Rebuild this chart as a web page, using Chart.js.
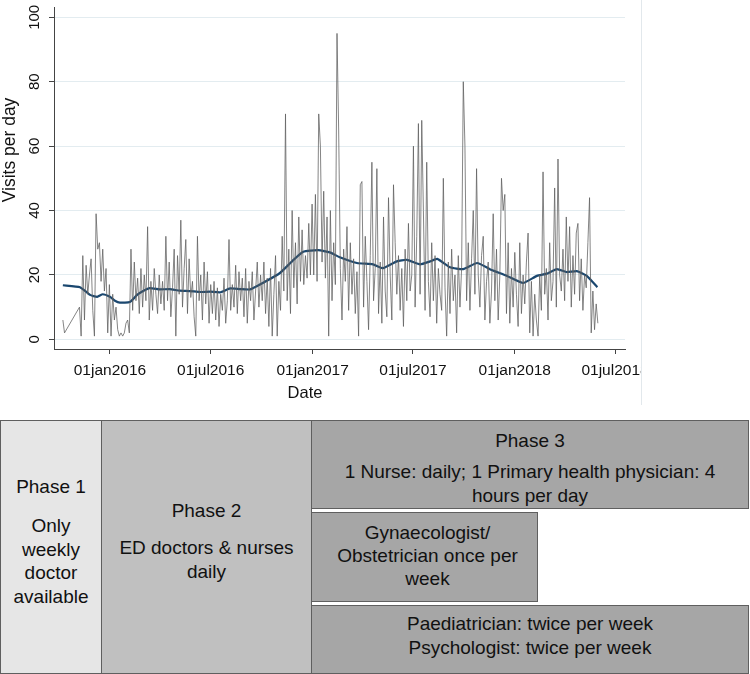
<!DOCTYPE html>
<html lang="en">
<head>
    <meta charset="UTF-8">
    <title>Visits per day by phase</title>
    <script src="https://cdn.jsdelivr.net/npm/chart.js"></script>
    <style>
        body {
            margin: 0;
            background: #ffffff;
            font-family: "Liberation Sans", Arial, sans-serif;
        }
        .page {
            position: relative;
            width: 750px;
            height: 674px;
            overflow: hidden;
        }
        #plot {
            position: absolute;
            left: 0;
            top: 0;
            width: 641px;
            height: 405px;
            border-right: 1px solid #e2e8ec;
        }
        .box {
            position: absolute;
            box-sizing: border-box;
            border: 1px solid #5f5f5f;
        }
        .txt {
            position: absolute;
            text-align: center;
            font-size: 19px;
            line-height: 23.5px;
            color: #111;
            white-space: nowrap;
        }
    </style>
</head>
<body>
<div class="page">
    <div id="plot"><canvas id="visitsChart"></canvas></div>

    <!-- phase boxes -->
    <div class="box" style="left:0;top:420px;width:102px;height:254px;background:#e6e6e6"></div>
    <div class="box" style="left:101px;top:420px;width:211px;height:254px;background:#c0c0c0"></div>
    <div class="box" style="left:311px;top:420px;width:438px;height:89px;background:#a6a6a6"></div>
    <div class="box" style="left:311px;top:512px;width:227px;height:90px;background:#a6a6a6"></div>
    <div class="box" style="left:311px;top:605px;width:438px;height:69px;background:#a6a6a6"></div>

    <div class="txt" style="left:0;width:102px;top:475px">Phase 1</div>
    <div class="txt" style="left:0;width:102px;top:514px">Only<br>weekly<br>doctor<br>available</div>

    <div class="txt" style="left:101px;width:211px;top:499px">Phase 2</div>
    <div class="txt" style="left:101px;width:211px;top:536px">ED doctors &amp; nurses<br>daily</div>

    <div class="txt" style="left:311px;width:438px;top:429px">Phase 3</div>
    <div class="txt" style="left:311px;width:438px;top:460px">1 Nurse: daily; 1 Primary health physician: 4<br>hours per day</div>

    <div class="txt" style="left:311px;width:233px;top:521px;line-height:23px">Gynaecologist/<br>Obstetrician once per<br>week</div>

    <div class="txt" style="left:311px;width:438px;top:612px">Paediatrician: twice per week<br>Psychologist: twice per week</div>
</div>

<script>
    // days are counted from 01jan2016; first record is 08oct2015, one value every 3 days
    const startDay = -85;
    const stepDays = 3;
    const visits = [
        6, 2, null, null, null, null, null, null, null, null,
        10, 1, 26, 6, 23, 14, 20, 25, 9, 1,
        39, 28, 30, 18, 28, 15, 22, 2, 17, 1,
        14, 6, 10, 3, 1, 2, 1, 2, 5, 6,
        2, 28, 9, 24, 12, 19, 8, 22, 10, 20,
        12, 35, 6, 18, 9, 22, 14, 8, 20, 11,
        18, 9, 32, 12, 24, 7, 16, 28, 1, 26,
        14, 37, 10, 22, 31, 8, 25, 13, 18, 7,
        1, 32, 12, 20, 6, 24, 11, 21, 5, 17,
        8, 18, 6, 16, 4, 14, 9, 19, 5, 12,
        31, 9, 17, 10, 23, 8, 21, 12, 19, 7,
        22, 5, 18, 12, 21, 6, 15, 24, 10, 20,
        12, 24, 8, 19, 4, 22, 1, 14, 26, 1,
        18, 9, 32, 15, 70, 12, 28, 8, 40, 16,
        30, 11, 38, 18, 34, 17, 26, 19, 36, 20,
        42, 20, 45, 18, 70, 60, 24, 46, 19, 38,
        1, 40, 12, 30, 17, 95, 65, 22, 6, 28,
        18, 35, 9, 30, 14, 25, 8, 21, 1, 48,
        49, 10, 32, 18, 3, 26, 55, 12, 22, 53,
        8, 24, 5, 38, 15, 7, 44, 20, 6, 48,
        30, 14, 26, 9, 22, 4, 28, 12, 36, 15,
        20, 60, 10, 32, 67, 14, 68, 40, 9, 55,
        18, 7, 30, 12, 26, 5, 22, 14, 9, 50,
        16, 1, 24, 8, 28, 12, 20, 2, 26, 10,
        22, 80, 60, 12, 30, 9, 25, 40, 14, 53,
        20, 10, 26, 32, 6, 18, 24, 5, 15, 39,
        12, 28, 6, 20, 50, 40, 45, 8, 30, 5,
        22, 10, 27, 14, 4, 30, 8, 20, 11, 24,
        33, 2, 18, 1, 14, 6, 1, 20, 9, 52,
        14, 22, 6, 30, 12, 18, 47, 10, 56, 20,
        15, 28, 12, 38, 18, 35, 10, 26, 14, 33,
        36, 12, 25, 9, 20, 16, 30, 44, 2, 15,
        3, 11, 5
    ];

    // smoothed trend (blue line)
    const trendDays = [-85, -54, -36, -23, -13, 0, 9, 18, 36, 49, 60, 72, 90, 108, 126, 144, 163, 181, 199, 217,
        235, 253, 276, 307, 331, 349, 376, 397, 415, 446, 475, 493, 518, 536, 560, 578, 591, 614, 638, 663,
        686, 717, 746, 771, 789, 807, 825, 843, 861, 880];
    const trendVisits = [16.8, 16.2, 13.8, 13.2, 14.0, 13.2, 12.0, 11.4, 11.6, 13.8, 15.0, 15.9, 15.5, 15.6, 15.1, 15.0, 14.7, 14.8, 14.6, 15.8,
        15.6, 15.5, 17.5, 20.6, 24.6, 27.2, 27.7, 27.0, 25.5, 23.7, 23.3, 22.1, 24.2, 24.7, 23.3, 24.2, 25.0, 22.4, 21.8, 23.7,
        21.8, 19.7, 17.5, 19.7, 20.4, 21.8, 20.9, 21.2, 19.7, 16.2];

    const xTickDays = [0, 182, 366, 547, 731, 912];
    const xTickLabels = ['01jan2016', '01jul2016', '01jan2017', '01jul2017', '01jan2018', '01jul2018'];
    const yTickValues = [0, 20, 40, 60, 80, 100];

    const FONT = '"Liberation Sans", Arial, sans-serif';

    // axis labels drawn by hand so the plot area is not squeezed (Stata style, rotated y labels)
    const axisText = {
        id: 'axisText',
        afterDraw(chart) {
            const ctx = chart.ctx;
            const x = chart.scales.x;
            const y = chart.scales.y;
            const area = chart.chartArea;
            ctx.save();
            ctx.fillStyle = '#111';

            ctx.font = '15px ' + FONT;
            ctx.textAlign = 'center';
            ctx.textBaseline = 'middle';
            yTickValues.forEach(v => {
                ctx.save();
                ctx.translate(area.left - 19, y.getPixelForValue(v));
                ctx.rotate(-Math.PI / 2);
                ctx.fillText(String(v), 0, 0);
                ctx.restore();
            });

            ctx.font = '15.5px ' + FONT;
            ctx.textBaseline = 'alphabetic';
            xTickDays.forEach((d, i) => {
                ctx.fillText(xTickLabels[i], x.getPixelForValue(d), area.bottom + 25.5);
            });

            ctx.font = '16.5px ' + FONT;
            ctx.fillText('Date', 305, area.bottom + 49);

            ctx.font = '17.5px ' + FONT;
            ctx.save();
            ctx.translate(15, 150);
            ctx.rotate(-Math.PI / 2);
            ctx.fillText('Visits per day', 0, 0);
            ctx.restore();

            ctx.restore();
        }
    };

    const visitPoints = visits.map((v, i) => ({ x: startDay + i * stepDays, y: v }));
    const trendPoints = trendDays.map((d, i) => ({ x: d, y: trendVisits[i] }));

    const ctx = document.getElementById('visitsChart').getContext('2d');
    new Chart(ctx, {
        type: 'line',
        data: {
            datasets: [
                {
                    label: 'Visits',
                    data: visitPoints,
                    borderColor: 'rgba(95, 95, 95, 0.85)',
                    borderWidth: 0.9,
                    pointRadius: 0,
                    spanGaps: true,
                    tension: 0
                },
                {
                    label: 'Smoothed',
                    data: trendPoints,
                    borderColor: '#1a476f',
                    borderWidth: 2.2,
                    pointRadius: 0,
                    tension: 0.15
                }
            ]
        },
        options: {
            responsive: true,
            maintainAspectRatio: false,
            animation: false,
            layout: { padding: { top: 7, right: 16, left: 0, bottom: 0 } },
            plugins: {
                legend: { display: false },
                tooltip: { enabled: false }
            },
            scales: {
                x: {
                    type: 'linear',
                    min: -101,
                    max: 930,
                    afterBuildTicks: s => { s.ticks = xTickDays.map(v => ({ value: v })); },
                    afterFit: s => { s.height = 56; },
                    ticks: { display: false },
                    grid: { drawOnChartArea: false, drawTicks: true, tickLength: 5, tickColor: '#444' },
                    border: { display: true, color: '#444', width: 1 }
                },
                y: {
                    min: -3,
                    max: 103.2,
                    afterBuildTicks: s => { s.ticks = yTickValues.map(v => ({ value: v })); },
                    afterFit: s => { s.width = 54; },
                    ticks: { display: false },
                    grid: { color: '#e3ecf0', lineWidth: 1, drawTicks: true, tickLength: 5, tickColor: '#444' },
                    border: { display: true, color: '#444', width: 1 }
                }
            }
        },
        plugins: [axisText]
    });
</script>
</body>
</html>
